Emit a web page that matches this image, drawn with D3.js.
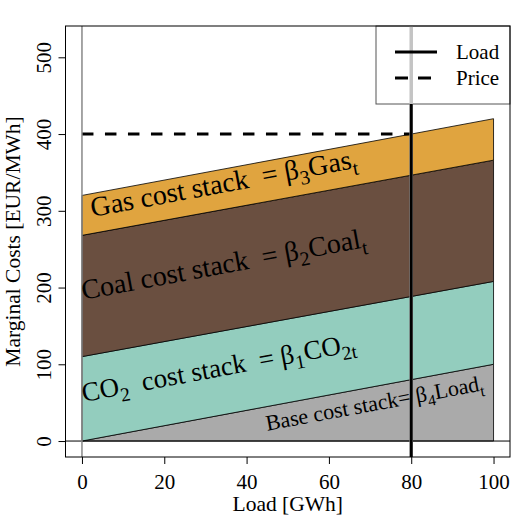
<!DOCTYPE html>
<html>
<head>
<meta charset="utf-8">
<script src="https://cdn.jsdelivr.net/npm/d3@7"></script>
<style>
  body { margin: 0; background: #fff; }
  text { font-family: "Liberation Serif", "Times New Roman", serif; fill: #000; }
</style>
</head>
<body>
<div id="chart"></div>
<script>
// data
var loadX = [0, 100];
var baseTop = [0, 100];
var co2Top = [110, 208];
var coalTop = [268, 366];
var gasTop = [320, 420];
var priceLevel = 400;
var loadLevel = 80;
var xTicks = [0, 20, 40, 60, 80, 100];
var yTicks = [0, 100, 200, 300, 400, 500];
var legendLabels = ["Load", "Price"];

var W = 523, H = 523;
var margin = {left: 65.5, right: 13, top: 26, bottom: 66};

var svg = d3.select("#chart").append("svg")
    .attr("width", W).attr("height", H);

var x = d3.scaleLinear().domain([-4, 104]).range([margin.left, W - margin.right]);
var y = d3.scaleLinear().domain([-20.8, 540.8]).range([H - margin.bottom, margin.top]);

// stacks: each band between a lower and an upper line
var bands = [
  {lo: [0, 0], hi: baseTop, fill: "#AAAAAA"},
  {lo: baseTop, hi: co2Top, fill: "#93CDBE"},
  {lo: co2Top, hi: coalTop, fill: "#6A4F40"},
  {lo: coalTop, hi: gasTop, fill: "#E0A43F"}
];

var area = d3.area()
    .x(function(d) { return x(d.x); })
    .y0(function(d) { return y(d.lo); })
    .y1(function(d) { return y(d.hi); });

svg.append("g").selectAll("path")
    .data(bands)
    .enter().append("path")
    .attr("d", function(b) {
        return area(loadX.map(function(v, i) { return {x: v, lo: b.lo[i], hi: b.hi[i]}; }));
    })
    .attr("fill", function(b) { return b.fill; })
    .attr("stroke", "#000")
    .attr("stroke-width", 0.8);

// price line
svg.append("line")
    .attr("x1", x(0)).attr("x2", x(loadLevel))
    .attr("y1", y(priceLevel)).attr("y2", y(priceLevel))
    .attr("stroke", "#000").attr("stroke-width", 3)
    .attr("stroke-dasharray", "11.5,11.5");

// horizontal zero line
svg.append("line")
    .attr("x1", x.range()[0]).attr("x2", x.range()[1])
    .attr("y1", y(0)).attr("y2", y(0))
    .attr("stroke", "#000").attr("stroke-width", 1);

// legend box
var lg = {x0: 376, y0: margin.top, x1: W - margin.right, y1: 104};
svg.append("rect")
    .attr("x", lg.x0).attr("y", lg.y0)
    .attr("width", lg.x1 - lg.x0).attr("height", lg.y1 - lg.y0)
    .attr("fill", "#fff").attr("stroke", "#555").attr("stroke-width", 1);

// grey verticals
svg.append("line")
    .attr("x1", x(0)).attr("x2", x(0))
    .attr("y1", y.range()[0]).attr("y2", y.range()[1])
    .attr("stroke", "#888").attr("stroke-width", 1.5);
svg.append("line")
    .attr("x1", x(loadLevel)).attr("x2", x(loadLevel))
    .attr("y1", y.range()[0]).attr("y2", y.range()[1])
    .attr("stroke", "#c4c4c4").attr("stroke-width", 3.5);

// load line (below legend)
svg.append("line")
    .attr("x1", x(loadLevel)).attr("x2", x(loadLevel))
    .attr("y1", y.range()[0]).attr("y2", lg.y1)
    .attr("stroke", "#000").attr("stroke-width", 3);

// legend entries
legendLabels.forEach(function(lab, i) {
    var ly = 52 + i * 26;
    svg.append("line")
        .attr("x1", 395).attr("x2", 437)
        .attr("y1", ly).attr("y2", ly)
        .attr("stroke", "#000").attr("stroke-width", 3)
        .attr("stroke-dasharray", i == 1 ? "13,10" : null);
    svg.append("text")
        .attr("x", 456).attr("y", ly + 7)
        .attr("font-size", 21)
        .text(lab);
});

// plot box
svg.append("rect")
    .attr("x", x.range()[0]).attr("y", y.range()[1])
    .attr("width", x.range()[1] - x.range()[0])
    .attr("height", y.range()[0] - y.range()[1])
    .attr("fill", "none").attr("stroke", "#000").attr("stroke-width", 1);

// axes
var xAxis = svg.append("g")
    .attr("transform", "translate(0," + y.range()[0] + ")")
    .call(d3.axisBottom(x).tickValues(xTicks).tickSize(7).tickSizeOuter(0));
xAxis.select(".domain").remove();
xAxis.selectAll("text").attr("font-size", 21).attr("font-family", "Liberation Serif").attr("dy", "1.05em");

var yAxis = svg.append("g")
    .attr("transform", "translate(" + x.range()[0] + ",0)")
    .call(d3.axisLeft(y).tickValues(yTicks).tickSize(7).tickSizeOuter(0));
yAxis.select(".domain").remove();
yAxis.selectAll("text")
    .attr("font-size", 21).attr("font-family", "Liberation Serif")
    .attr("text-anchor", "middle")
    .attr("x", 0).attr("dy", 0)
    .attr("transform", function() { return "translate(-15,0) rotate(-90)"; });

// axis titles
svg.append("text")
    .attr("x", (x.range()[0] + x.range()[1]) / 2).attr("y", 511)
    .attr("text-anchor", "middle").attr("font-size", 21.5)
    .text("Load [GWh]");
svg.append("text")
    .attr("transform", "translate(20," + (y.range()[0] + y.range()[1]) / 2 + ") rotate(-90)")
    .attr("text-anchor", "middle").attr("font-size", 21.5)
    .text("Marginal Costs [EUR/MWh]");

// stack labels, tilted along the slope of the stacks
var angle = Math.atan2(y(100) - y(0), x(100) - x(0)) * 180 / Math.PI;

function stackLabel(px, py, size, parts) {
    var t = svg.append("text")
        .attr("transform", "translate(" + x(px) + "," + y(py) + ") rotate(" + angle + ")")
        .attr("font-size", size)
        .attr("xml:space", "preserve");
    parts.forEach(function(p) {
        var s = t.append("tspan").text(p[0]);
        if (p[1] == "sub") s.attr("font-size", size * 0.72).attr("dy", size * 0.25);
        if (p[1] == "back") s.attr("dy", -size * 0.25);
    });
}

stackLabel(2.5, 292, 28, [["Gas cost stack  = β"], ["3", "sub"], ["Gas", "back"], ["t", "sub"]]);
stackLabel(0.3, 184, 28, [["Coal cost stack  = β"], ["2", "sub"], ["Coal", "back"], ["t", "sub"]]);
stackLabel(0.4, 51, 27, [["CO"], ["2", "sub"], ["  cost stack  = β", "back"], ["1", "sub"], ["CO", "back"], ["2t", "sub"]]);
stackLabel(45, 13.4, 22, [["Base cost stack= β"], ["4", "sub"], ["Load", "back"], ["t", "sub"]]);
</script>
</body>
</html>
